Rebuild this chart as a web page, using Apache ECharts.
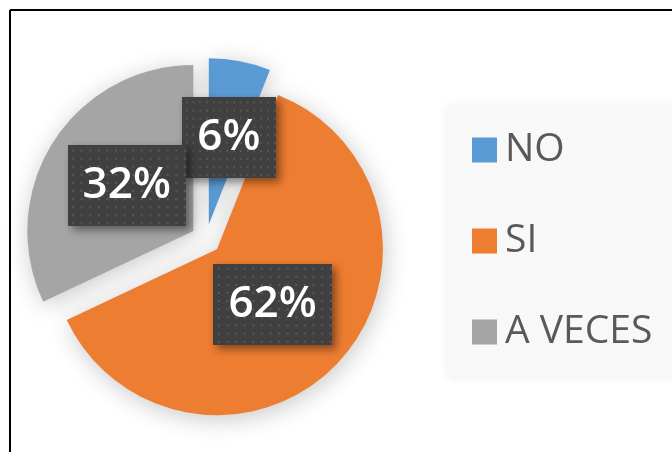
<!DOCTYPE html>
<html>
<head>
<meta charset="utf-8">
<script src="https://cdn.jsdelivr.net/npm/echarts@6/dist/echarts.min.js"></script>
<style>
  html, body { margin: 0; padding: 0; background: #fff; }
  #main { width: 672px; height: 452px; }
</style>
</head>
<body>
<div id="main"></div>
<script>
// categories and values
var categories = ["NO", "SI", "A VECES"];
var values = [6, 62, 32];
var colors = ["#5b9bd5", "#ed7d31", "#a5a5a5"];
// small nudges so the callouts sit where the original put them
var labelNudge = [[4, -2], [-7, -4], [6, 1]];

// dotted dark fill used behind the data labels
function dotTexture(w, h) {
  var c = document.createElement("canvas");
  c.width = w;
  c.height = h;
  var ctx = c.getContext("2d");
  ctx.fillStyle = "#404040";
  ctx.fillRect(0, 0, w, h);
  ctx.fillStyle = "#575757";
  for (var y = 4; y < h; y += 8) {
    for (var x = 4; x < w; x += 8) {
      ctx.fillRect(x, y, 2, 2);
    }
  }
  return c;
}

var pieData = categories.map(function(name, i) {
  return {
    name: name,
    value: values[i],
    selected: true,
    itemStyle: { color: colors[i] }
  };
});

var chart = echarts.init(document.getElementById("main"));

var option = {
  animation: false,
  backgroundColor: "#ffffff",
  graphic: [
    // the frame round the chart (only top and left are visible)
    { type: "line", shape: { x1: 10, y1: 10, x2: 672, y2: 10 }, style: { stroke: "#000", lineWidth: 2 } },
    { type: "line", shape: { x1: 10, y1: 10, x2: 10, y2: 452 }, style: { stroke: "#000", lineWidth: 2 } }
  ],
  legend: {
    orient: "vertical",
    left: 448,
    top: 106,
    padding: [24, 40, 25, 24],
    backgroundColor: "#f8f8f8",
    shadowColor: "rgba(0,0,0,0.08)",
    shadowBlur: 10,
    icon: "rect",
    itemWidth: 25,
    itemHeight: 25,
    itemGap: 51,
    selectedMode: false,
    data: categories,
    textStyle: {
      fontFamily: "Open Sans",
      fontSize: 39,
      lineHeight: 40,
      color: "#595959",
      padding: [0, 0, 0, 3]
    }
  },
  series: [
    {
      type: "pie",
      center: [206, 239],
      radius: [0, 166],
      startAngle: 90,
      clockwise: true,
      selectedMode: "multiple",
      selectedOffset: 15,
      avoidLabelOverlap: false,
      labelLayout: function(params) {
        var n = labelNudge[params.dataIndex];
        return { dx: n[0], dy: n[1], hideOverlap: false };
      },
      data: pieData,
      itemStyle: {
        shadowColor: "rgba(0,0,0,0.22)",
        shadowBlur: 24,
        shadowOffsetX: 2,
        shadowOffsetY: 4
      },
      emphasis: { disabled: true },
      label: {
        show: true,
        position: "inside",
        formatter: "{c}%",
        fontFamily: "Open Sans",
        fontSize: 44,
        fontWeight: 600,
        color: "#ffffff",
        backgroundColor: { image: dotTexture(110, 80) },
        padding: [20, 15, 17, 15],
        shadowColor: "rgba(0,0,0,0.45)",
        shadowBlur: 8,
        shadowOffsetX: 4,
        shadowOffsetY: 4
      },
      labelLine: { show: false }
    }
  ]
};

chart.setOption(option);
</script>
</body>
</html>
